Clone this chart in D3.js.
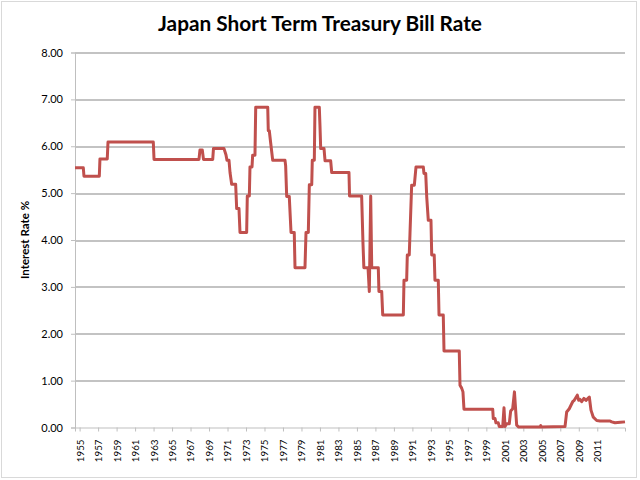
<!DOCTYPE html>
<html>
<head>
<meta charset="utf-8">
<script src="https://cdn.jsdelivr.net/npm/d3@7"></script>
<style>
  body { margin: 0; background: #fff; }
  svg { display: block; }
</style>
</head>
<body>
<div id="chart"></div>
<script>
// rate readings (year as decimal, rate in %)
const years = [
  1954.50, 1955.40, 1955.47, 1957.13, 1957.20, 1957.99, 1958.07, 1962.97, 1963.05, 1967.91,
  1968.02, 1968.27, 1968.40, 1969.40, 1969.48, 1970.62, 1970.83, 1970.94, 1971.16, 1971.27,
  1971.45, 1971.88, 1971.99, 1972.24, 1972.35, 1973.07, 1973.14, 1973.36, 1973.43, 1973.65,
  1973.72, 1973.97, 1974.05, 1975.35, 1975.41, 1975.52, 1975.67, 1975.89, 1977.22, 1977.29,
  1977.40, 1977.68, 1977.87, 1978.22, 1978.30, 1979.38, 1979.49, 1979.74, 1979.85, 1980.11,
  1980.17, 1980.39, 1980.46, 1980.93, 1981.00, 1981.08, 1981.44, 1981.55, 1982.16, 1982.27,
  1984.14, 1984.20, 1985.51, 1985.66, 1985.75, 1986.20, 1986.34, 1986.49, 1986.60, 1987.31,
  1987.38, 1987.68, 1987.79, 1990.02, 1990.09, 1990.38, 1990.45, 1990.66, 1990.74, 1990.92,
  1991.21, 1991.39, 1992.18, 1992.25, 1992.44, 1992.55, 1992.72, 1993.01, 1993.09, 1993.36,
  1993.44, 1993.80, 1993.88, 1994.34, 1994.42, 1996.07, 1996.15, 1996.33, 1996.47, 1996.58,
  1999.69, 1999.75, 1999.94, 2000.04, 2000.29, 2000.40, 2000.77, 2000.91, 2001.02, 2001.20,
  2001.48, 2001.63, 2001.85, 2002.04, 2002.28, 2002.50, 2004.80, 2004.88, 2004.96, 2007.51,
  2007.69, 2007.97, 2008.34, 2008.51, 2008.84, 2008.99, 2009.13, 2009.31, 2009.56, 2009.78,
  2010.14, 2010.32, 2010.57, 2010.94, 2011.29, 2012.38, 2012.56, 2012.92, 2013.50, 2014.00
];
const rates = [
  5.54, 5.54, 5.36, 5.36, 5.73, 5.73, 6.09, 6.09, 5.72, 5.72,
  5.92, 5.92, 5.72, 5.72, 5.95, 5.95, 5.82, 5.70, 5.70, 5.44,
  5.19, 5.19, 4.67, 4.67, 4.16, 4.16, 4.94, 4.94, 5.56, 5.56,
  5.81, 5.81, 6.83, 6.83, 6.33, 6.33, 6.07, 5.70, 5.70, 5.58,
  4.93, 4.93, 4.16, 4.16, 3.41, 3.41, 4.16, 4.16, 5.18, 5.18,
  5.70, 5.70, 6.83, 6.83, 6.45, 5.95, 5.95, 5.69, 5.69, 5.44,
  5.44, 4.94, 4.94, 3.90, 3.41, 3.41, 2.90, 4.94, 3.41, 3.41,
  2.90, 2.90, 2.40, 2.40, 3.14, 3.14, 3.68, 3.68, 4.14, 5.17,
  5.17, 5.56, 5.56, 5.42, 5.42, 4.92, 4.42, 4.42, 3.68, 3.68,
  3.14, 3.14, 2.40, 2.40, 1.63, 1.63, 0.90, 0.84, 0.76, 0.39,
  0.39, 0.19, 0.19, 0.10, 0.10, 0.02, 0.02, 0.42, 0.02, 0.08,
  0.08, 0.35, 0.40, 0.76, 0.05, 0.01, 0.01, 0.04, 0.01, 0.02,
  0.33, 0.40, 0.55, 0.58, 0.69, 0.58, 0.60, 0.55, 0.62, 0.58,
  0.65, 0.37, 0.22, 0.15, 0.14, 0.14, 0.12, 0.10, 0.11, 0.12
];
const rateTicks = [0, 1, 2, 3, 4, 5, 6, 7, 8];
const yearLabels = [
  1955, 1957, 1959, 1961, 1963, 1965, 1967, 1969, 1971, 1973, 1975, 1977, 1979, 1981, 1983,
  1985, 1987, 1989, 1991, 1993, 1995, 1997, 1999, 2001, 2003, 2005, 2007, 2009, 2011
];

const W = 640, H = 480;
const margin = { top: 52.5, right: 15, bottom: 52.5, left: 75 },
    width = W - margin.left - margin.right,
    height = H - margin.top - margin.bottom;

const svg = d3.select("#chart")
    .append("svg")
    .attr("width", W)
    .attr("height", H);

// chart area border
svg.append("rect")
    .attr("x", 1.5).attr("y", 1.5)
    .attr("width", 635).attr("height", 476)
    .attr("fill", "none")
    .attr("stroke", "#d9d9d9");

svg.append("text")
    .attr("x", 320).attr("y", 31)
    .attr("text-anchor", "middle")
    .style("font-family", "Lato, sans-serif")
    .style("font-weight", "bold")
    .style("font-size", "20.8px")
    .text("Japan Short Term Treasury Bill Rate");

svg.append("text")
    .attr("transform", "translate(25,240) rotate(-90)")
    .attr("text-anchor", "middle")
    .attr("dy", "0.35em")
    .style("font-family", "Lato, sans-serif")
    .style("font-weight", "bold")
    .style("font-size", "11.5px")
    .text("Interest Rate %");

const g = svg.append("g")
    .attr("transform", `translate(${margin.left},${margin.top})`);

const x = d3.scaleLinear()
    .domain([1954.5, 2014])
    .range([0, width]);

const y = d3.scaleLinear()
    .domain([0, 8])
    .range([height, 0]);

// gridlines
g.append("g")
    .selectAll("line")
    .data(rateTicks.filter(d => d > 0))
    .join("line")
    .attr("x1", 0).attr("x2", width)
    .attr("y1", d => Math.round(y(d)) + 0.5)
    .attr("y2", d => Math.round(y(d)) + 0.5)
    .attr("stroke", "#878787");

// y axis
const yAxis = g.append("g")
    .call(d3.axisLeft(y).tickValues(rateTicks).tickFormat(d3.format(".2f")).tickSize(4).tickPadding(8));
yAxis.selectAll("path, line").attr("stroke", "#bfbfbf");
yAxis.selectAll("text")
    .style("font-family", "Lato, sans-serif")
    .style("font-size", "11px")
    .attr("fill", "#000");

// x axis
const xAxis = g.append("g")
    .attr("transform", `translate(0,${height})`)
    .call(d3.axisBottom(x).tickValues(yearLabels).tickFormat(d => d).tickSize(4));
xAxis.selectAll("path, line").attr("stroke", "#bfbfbf");
xAxis.selectAll("text")
    .attr("transform", "rotate(-90)")
    .attr("x", -12)
    .attr("y", 0)
    .attr("dy", "0.35em")
    .style("text-anchor", "end")
    .style("font-family", "Lato, sans-serif")
    .style("font-size", "9.8px")
    .attr("fill", "#000");

// the rate line
const line = d3.line()
    .x(d => x(d[0]))
    .y(d => y(d[1]));

g.append("path")
    .datum(d3.zip(years, rates))
    .attr("fill", "none")
    .attr("stroke", "#c0504d")
    .attr("stroke-width", 3)
    .attr("stroke-linejoin", "round")
    .attr("d", line);
</script>
</body>
</html>
